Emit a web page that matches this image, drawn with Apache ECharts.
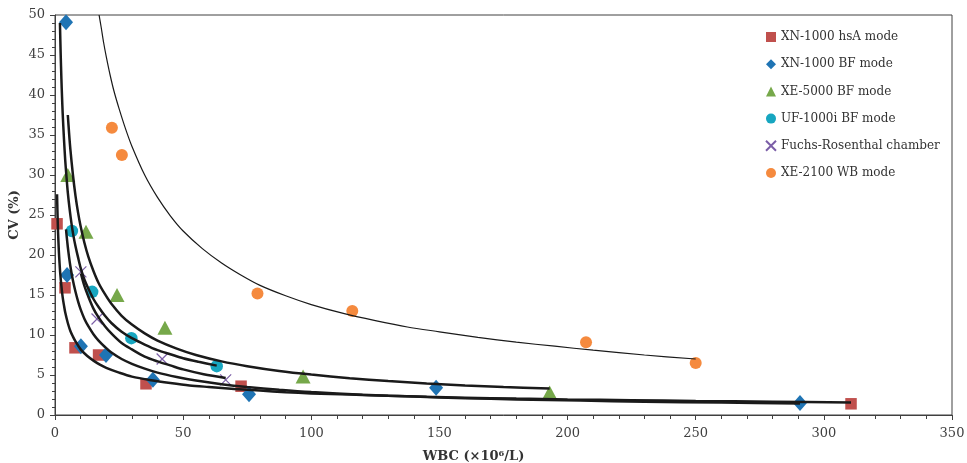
<!DOCTYPE html>
<html>
<head>
<meta charset="utf-8">
<script src="https://cdn.jsdelivr.net/npm/echarts@6/dist/echarts.min.js"></script>
<style>
  html, body { margin: 0; padding: 0; background: #fff; }
  #chart { width: 967px; height: 463px; }
</style>
</head>
<body>
<div id="chart"></div>
<script>
// Measured points: [WBC (x10^6/L), CV (%)]
const xn1000Hsa = [[0.8, 23.9], [3.9, 15.9], [7.8, 8.4], [17, 7.5], [35.5, 3.9], [72.6, 3.6], [310.6, 1.4]];
const xn1000Bf = [[4.3, 49.1], [4.7, 17.5], [10.1, 8.6], [19.9, 7.5], [38.2, 4.4], [75.7, 2.6], [148.7, 3.4], [290.7, 1.5]];
const xe5000Bf = [[5, 30], [12.1, 22.9], [24.2, 15], [42.9, 10.9], [96.8, 4.8], [193, 2.8]];
const uf1000iBf = [[6.6, 23], [14.5, 15.4], [29.8, 9.6], [63.1, 6.1]];
const fuchsRosenthal = [[10.1, 17.9], [16.4, 12], [41.8, 7], [66.6, 4.4]];
const xe2100Wb = [[22.2, 35.9], [26.1, 32.5], [79, 15.2], [116, 13], [207.2, 9.1], [250, 6.5]];

// Fitted curves, sampled along each trend line
const hsaTrend = [[0.8, 27.6], [0.9, 26.2], [1, 24.9], [1.2, 22.8], [1.5, 20.5], [1.75, 19.1], [2, 17.9], [2.5, 16.1], [3, 14.7], [3.5, 13.7], [4, 12.8], [5, 11.5], [6, 10.5], [7, 9.8], [8, 9.2], [10, 8.2], [12.5, 7.4], [15, 6.8], [17.5, 6.3], [20, 5.9], [25, 5.3], [30, 4.8], [37.5, 4.35], [45, 4.0], [52.5, 3.7], [60, 3.5], [70, 3.25], [80, 3.05], [90, 2.85], [100, 2.7], [115, 2.55], [130, 2.4], [145, 2.27], [160, 2.17], [180, 2.05], [200, 1.95], [225, 1.85], [250, 1.75], [280, 1.66], [310.6, 1.57]];
const bfTrend = [[4.3, 23.2], [4.6, 22.2], [5, 21.0], [5.5, 19.7], [6, 18.6], [7, 16.8], [8, 15.4], [9, 14.2], [10, 13.2], [11.5, 12.0], [13, 11.1], [15, 10.1], [17, 9.3], [19.5, 8.5], [22, 7.8], [26, 7.0], [30, 6.4], [35, 5.8], [40, 5.3], [47.5, 4.75], [55, 4.3], [65, 3.85], [75, 3.5], [87.5, 3.15], [100, 2.86], [120, 2.53], [140, 2.3], [160, 2.1], [180, 1.95], [205, 1.8], [230, 1.65], [260, 1.55], [290.7, 1.45]];
const xe5000Trend = [[5, 37.5], [5.5, 35.2], [6, 33.2], [7, 30.0], [8, 27.4], [9, 25.3], [10, 23.6], [11.5, 21.5], [13, 19.8], [15, 18.0], [17, 16.5], [19.5, 15.1], [22, 13.9], [26, 12.4], [30, 11.3], [35, 10.2], [40, 9.3], [47.5, 8.3], [55, 7.5], [65, 6.7], [75, 6.1], [87.5, 5.5], [100, 5.05], [115, 4.6], [130, 4.25], [145, 3.95], [160, 3.7], [175, 3.5], [193, 3.3]];
const ufTrend = [[1.93, 49], [2.2, 45.3], [2.5, 42], [2.75, 39.7], [3, 37.7], [3.5, 34.5], [4, 31.8], [4.5, 29.7], [5, 27.8], [5.75, 25.6], [6.5, 23.8], [7.25, 22.3], [8, 21.1], [9, 19.7], [10, 18.4], [11.5, 16.9], [13, 15.8], [15, 14.5], [17, 13.5], [19.5, 12.4], [22, 11.5], [26, 10.4], [30, 9.6], [35, 8.8], [40, 8.1], [45, 7.6], [50, 7.1], [56, 6.65], [63.1, 6.17]];
const frTrend = [[10.1, 17.7], [11.5, 16.1], [13, 14.8], [15, 13.3], [17, 12.2], [19.5, 11.1], [22, 10.2], [26, 9.0], [30, 8.2], [35, 7.3], [40, 6.7], [45, 6.2], [50, 5.7], [58, 5.1], [66.6, 4.63]];
const xe2100Trend = [[17.2, 50], [18, 48.5], [19, 46.5], [20, 44.8], [21.5, 42.5], [23, 40.5], [25, 38.3], [27.5, 35.8], [30, 33.6], [35, 30], [40, 27.2], [45, 24.9], [50, 23.0], [57.5, 20.8], [65, 19.0], [72.5, 17.5], [80, 16.2], [90, 14.9], [100, 13.8], [112.5, 12.7], [125, 11.8], [137.5, 11.0], [150, 10.4], [165, 9.7], [180, 9.1], [195, 8.6], [210, 8.1], [230, 7.5], [250, 7.0]];

const seriesNames = ['XN-1000 hsA mode', 'XN-1000 BF mode', 'XE-5000 BF mode', 'UF-1000i BF mode', 'Fuchs-Rosenthal chamber', 'XE-2100 WB mode'];

const FONT = '"DejaVu Serif", serif';
const AXIS_COLOR = '#404040';
const CROSS = 'path://M0,0L10,10M10,0L0,10';

function scatter(name, data, symbol, size, color, extra) {
  return Object.assign({
    name: name,
    type: 'scatter',
    data: data,
    symbol: symbol,
    symbolSize: size,
    itemStyle: { color: color, opacity: 1 },
    z: 2
  }, extra || {});
}

function trend(data, width) {
  return {
    type: 'line',
    data: data,
    smooth: 0.3,
    showSymbol: false,
    symbol: 'none',
    silent: true,
    clip: true,
    lineStyle: { color: '#1a1a1a', width: width },
    z: 5
  };
}

const chart = echarts.init(document.getElementById('chart'));
chart.setOption({
  animation: false,
  backgroundColor: '#ffffff',
  grid: {
    left: 55, right: 15, top: 15, bottom: 48,
    outerBoundsMode: 'none',
    containLabel: false,
    show: true, borderColor: AXIS_COLOR, borderWidth: 1, backgroundColor: 'transparent'
  },
  legend: {
    orient: 'vertical',
    left: 760,
    top: 26,
    itemWidth: 10,
    itemHeight: 10,
    itemGap: 15.2,
    data: seriesNames,
    textStyle: { fontFamily: FONT, fontSize: 12, color: '#333333' }
  },
  xAxis: {
    type: 'value',
    min: 0, max: 350, interval: 50,
    name: 'WBC (×10⁶/L)',
    nameLocation: 'middle',
    nameGap: 35,
    nameTextStyle: { fontFamily: FONT, fontSize: 13, fontWeight: 'bold', color: '#333333', padding: [0, 60, 0, 0] },
    axisLine: { lineStyle: { color: AXIS_COLOR, width: 1 } },
    axisTick: { show: true, inside: false, length: 5, lineStyle: { color: AXIS_COLOR } },
    minorTick: { show: true, splitNumber: 5, length: 4, lineStyle: { color: AXIS_COLOR } },
    axisLabel: { fontFamily: FONT, fontSize: 13, color: '#404040', margin: 12 },
    splitLine: { show: false }
  },
  yAxis: {
    type: 'value',
    min: 0, max: 50, interval: 5,
    name: 'CV (%)',
    nameLocation: 'middle',
    nameGap: 34,
    nameMoveOverlap: false,
    nameTextStyle: { fontFamily: FONT, fontSize: 13, fontWeight: 'bold', color: '#333333' },
    axisLine: { show: true, lineStyle: { color: AXIS_COLOR, width: 1 } },
    axisTick: { show: true, inside: false, length: 5, lineStyle: { color: AXIS_COLOR } },
    minorTick: { show: true, splitNumber: 5, length: 3, lineStyle: { color: AXIS_COLOR } },
    axisLabel: { fontFamily: FONT, fontSize: 13, color: '#404040', margin: 10 },
    splitLine: { show: false }
  },
  series: [
    scatter(seriesNames[0], xn1000Hsa, 'rect', 11.5, '#c0504d'),
    scatter(seriesNames[1], xn1000Bf, 'diamond', [14, 16], '#1f74b4'),
    scatter(seriesNames[2], xe5000Bf, 'triangle', [15, 14], '#76a84a'),
    scatter(seriesNames[3], uf1000iBf, 'circle', 12.5, '#17a6c0'),
    scatter(seriesNames[4], fuchsRosenthal, CROSS, 11, '#7b5ea7', {
      itemStyle: { color: 'rgba(0,0,0,0)', borderColor: '#7b5ea7', borderWidth: 1.2, opacity: 1 }
    }),
    scatter(seriesNames[5], xe2100Wb, 'circle', 12, '#f58a3e'),
    trend(hsaTrend, 2.5),
    trend(bfTrend, 2.5),
    trend(xe5000Trend, 2.5),
    trend(ufTrend, 2.5),
    trend(frTrend, 2.5),
    trend(xe2100Trend, 1.2)
  ]
});
</script>
</body>
</html>
